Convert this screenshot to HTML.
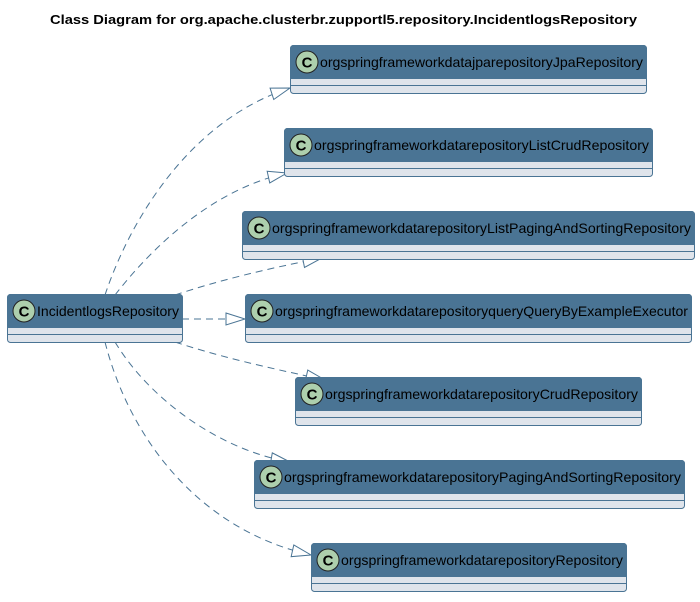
<!DOCTYPE html>
<html><head><meta charset="utf-8"><style>
body{margin:0;background:#fff;}
svg text{font-family:"Liberation Sans",sans-serif;}
</style></head><body>
<svg width="700" height="597" xmlns="http://www.w3.org/2000/svg">
<defs>
<marker id="a" markerUnits="userSpaceOnUse" markerWidth="22" markerHeight="14" refX="20" refY="7" orient="auto">
<path d="M1,1 L20,7 L1,13 Z" fill="#fff" stroke="#4a7494" stroke-width="1"/>
</marker>
<g id="c"><circle cx="0" cy="0" r="11" fill="#adcfad" stroke="#222" stroke-width="1"/>
<text x="0" y="5.5" text-anchor="middle" font-size="15" font-weight="bold" fill="#000">C</text></g>
</defs>
<text x="50" y="24" font-size="13" font-weight="bold" textLength="587" lengthAdjust="spacingAndGlyphs">Class Diagram for org.apache.clusterbr.zupportl5.repository.IncidentlogsRepository</text>
<g fill="none" stroke="#4a7494" stroke-width="1" stroke-dasharray="7,5" marker-end="url(#a)">
<path d="M105,295 C130,220 190,120 290,88"/>
<path d="M115,295 C150,250 210,190 287,173"/>
<path d="M175,295 C220,280 270,268 322,258"/>
<path d="M182,319 L245,319"/>
<path d="M175,342 C230,360 280,370 325,380"/>
<path d="M115,342 C150,400 220,450 290,462"/>
<path d="M105,342 C130,440 200,530 311,555"/>
</g>
<g stroke="#4a7494" stroke-width="1">
<g><rect x="7.5" y="294.5" width="175" height="48" rx="3" fill="#dfe4eb"/><path d="M7.5,327.5 V297.5 a3,3 0 0 1 3,-3 H179.5 a3,3 0 0 1 3,3 V327.5 Z" fill="#4a7494"/><line x1="7.5" y1="334.5" x2="182.5" y2="334.5"/></g>
<g><rect x="290.5" y="45.5" width="356" height="48" rx="3" fill="#dfe4eb"/><path d="M290.5,78.5 V48.5 a3,3 0 0 1 3,-3 H643.5 a3,3 0 0 1 3,3 V78.5 Z" fill="#4a7494"/><line x1="290.5" y1="85.5" x2="646.5" y2="85.5"/></g>
<g><rect x="284.5" y="128.5" width="368" height="48" rx="3" fill="#dfe4eb"/><path d="M284.5,161.5 V131.5 a3,3 0 0 1 3,-3 H649.5 a3,3 0 0 1 3,3 V161.5 Z" fill="#4a7494"/><line x1="284.5" y1="168.5" x2="652.5" y2="168.5"/></g>
<g><rect x="242.5" y="211.5" width="452" height="48" rx="3" fill="#dfe4eb"/><path d="M242.5,244.5 V214.5 a3,3 0 0 1 3,-3 H691.5 a3,3 0 0 1 3,3 V244.5 Z" fill="#4a7494"/><line x1="242.5" y1="251.5" x2="694.5" y2="251.5"/></g>
<g><rect x="245.5" y="294.5" width="446" height="48" rx="3" fill="#dfe4eb"/><path d="M245.5,327.5 V297.5 a3,3 0 0 1 3,-3 H688.5 a3,3 0 0 1 3,3 V327.5 Z" fill="#4a7494"/><line x1="245.5" y1="334.5" x2="691.5" y2="334.5"/></g>
<g><rect x="295.5" y="377.5" width="346" height="48" rx="3" fill="#dfe4eb"/><path d="M295.5,410.5 V380.5 a3,3 0 0 1 3,-3 H638.5 a3,3 0 0 1 3,3 V410.5 Z" fill="#4a7494"/><line x1="295.5" y1="417.5" x2="641.5" y2="417.5"/></g>
<g><rect x="254.5" y="460.5" width="430" height="48" rx="3" fill="#dfe4eb"/><path d="M254.5,493.5 V463.5 a3,3 0 0 1 3,-3 H681.5 a3,3 0 0 1 3,3 V493.5 Z" fill="#4a7494"/><line x1="254.5" y1="500.5" x2="684.5" y2="500.5"/></g>
<g><rect x="311.5" y="543.5" width="315" height="48" rx="3" fill="#dfe4eb"/><path d="M311.5,576.5 V546.5 a3,3 0 0 1 3,-3 H623.5 a3,3 0 0 1 3,3 V576.5 Z" fill="#4a7494"/><line x1="311.5" y1="583.5" x2="626.5" y2="583.5"/></g>
</g>
<g font-size="14" fill="#000">
<use href="#c" x="24" y="311"/><text x="37" y="316" textLength="142" lengthAdjust="spacingAndGlyphs">IncidentlogsRepository</text>
<use href="#c" x="307" y="62"/><text x="320" y="67" textLength="323" lengthAdjust="spacingAndGlyphs">orgspringframeworkdatajparepositoryJpaRepository</text>
<use href="#c" x="301" y="145"/><text x="314" y="150" textLength="335" lengthAdjust="spacingAndGlyphs">orgspringframeworkdatarepositoryListCrudRepository</text>
<use href="#c" x="259" y="228"/><text x="272" y="233" textLength="419" lengthAdjust="spacingAndGlyphs">orgspringframeworkdatarepositoryListPagingAndSortingRepository</text>
<use href="#c" x="262" y="311"/><text x="275" y="316" textLength="413" lengthAdjust="spacingAndGlyphs">orgspringframeworkdatarepositoryqueryQueryByExampleExecutor</text>
<use href="#c" x="312" y="394"/><text x="325" y="399" textLength="313" lengthAdjust="spacingAndGlyphs">orgspringframeworkdatarepositoryCrudRepository</text>
<use href="#c" x="271" y="477"/><text x="284" y="482" textLength="397" lengthAdjust="spacingAndGlyphs">orgspringframeworkdatarepositoryPagingAndSortingRepository</text>
<use href="#c" x="328" y="560"/><text x="341" y="565" textLength="282" lengthAdjust="spacingAndGlyphs">orgspringframeworkdatarepositoryRepository</text>
</g>
</svg>
</body></html>
